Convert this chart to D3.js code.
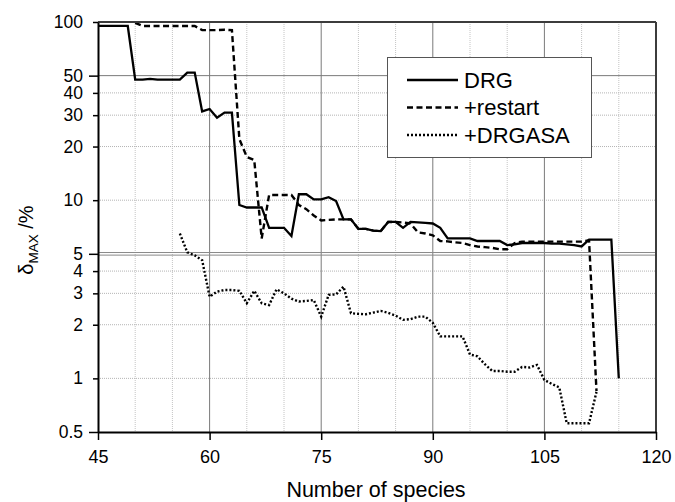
<!DOCTYPE html>
<html>
<head>
<meta charset="utf-8">
<script src="https://cdn.jsdelivr.net/npm/d3@7"></script>
<style>
  body { margin: 0; background: #fff; }
  svg { display: block; font-family: "Liberation Sans", Arial, sans-serif; }
</style>
</head>
<body>
<div id="chart"></div>
<script>
// --- data ---
const drgSpecies = [45,46,47,48,49,50,51,52,53,54,55,56,57,58,59,60,61,62,63,64,65,66,67,68,69,70,
  71,72,73,74,75,76,77,78,79,80,81,82,83,84,85,86,87,88,89,90,91,92,93,94,95,96,97,98,99,100,
  101,102,103,104,105,106,107,108,109,110,111,112,113,114,115];
const drgDelta = [95,95,95,95,95,47.5,47.5,48,47.5,47.5,47.5,47.5,52,52,31.5,32.5,29,31,31,9.4,
  9.1,9.1,9.1,7.0,7.0,7.0,6.3,10.8,10.8,10.1,10.1,10.4,9.9,7.8,7.8,6.9,6.9,6.75,6.7,7.55,7.55,
  7.0,7.55,7.5,7.45,7.4,7.0,6.1,6.1,6.1,6.1,5.9,5.9,5.9,5.9,5.6,5.65,5.75,5.75,5.75,5.75,5.7,
  5.7,5.65,5.6,5.5,6.0,6.0,6.0,6.0,1.0];

const restartSpecies = [50,51,52,53,54,55,56,57,58,59,60,61,62,63,64,65,66,67,68,69,70,71,72,73,
  74,75,76,77,78,79,80,81,82,83,84,85,86,87,88,89,90,91,92,93,94,95,96,97,98,99,100,101,102,
  103,104,105,106,107,108,109,110,111,112];
const restartDelta = [99,95,95,95,95,95,95,95,95,90,90,90,90.5,90,22,17.5,16.8,6.1,10.7,10.7,
  10.7,10.7,9.4,8.9,8.2,7.7,7.75,7.8,7.8,7.8,6.9,6.9,6.75,6.7,7.55,7.55,7.5,7.4,6.6,6.5,6.35,
  5.9,5.87,5.8,5.75,5.6,5.5,5.45,5.4,5.3,5.3,5.75,5.85,5.85,5.85,5.85,5.85,5.85,5.85,5.85,
  5.85,5.95,0.85];

const drgasaSpecies = [56,57,58,59,60,61,62,63,64,65,66,67,68,69,70,71,72,73,74,75,76,77,78,79,
  80,81,82,83,84,85,86,87,88,89,90,91,92,93,94,95,96,97,98,99,100,101,102,103,104,105,106,107,
  108,109,110,111,112];
const drgasaDelta = [6.5,5.1,4.9,4.6,2.87,3.07,3.13,3.13,3.1,2.64,3.1,2.64,2.58,3.16,3.0,2.8,
  2.7,2.72,2.75,2.22,2.94,2.96,3.27,2.32,2.3,2.29,2.34,2.39,2.33,2.25,2.13,2.15,2.22,2.22,2.05,
  1.72,1.72,1.72,1.72,1.36,1.33,1.2,1.1,1.1,1.09,1.09,1.16,1.15,1.19,0.98,0.93,0.89,0.56,0.56,
  0.56,0.56,0.84];

const seriesNames = ["DRG", "+restart", "+DRGASA"];

// ticks / grid
const xTicks = [45, 60, 75, 90, 105, 120];
const xMinorGrid = [50, 55, 65, 70, 80, 85, 95, 100, 110, 115];
const xMajorGrid = [60, 75, 90, 105];
const yTicks = [100, 50, 40, 30, 20, 10, 5, 4, 3, 2, 1, 0.5];
const yMajor = [0.5, 5, 50];
const yMinorGrid = [40, 30, 20, 10, 4, 3, 2, 1];

// --- layout ---
const W = 675, H = 502;
const margin = { top: 22, right: 19, bottom: 70, left: 98 };

const x = d3.scaleLinear().domain([45, 120]).range([margin.left, W - margin.right]);
const y = d3.scaleLog().domain([0.5, 100]).range([H - margin.bottom, margin.top]);

const svg = d3.select("#chart").append("svg").attr("width", W).attr("height", H);

const x0 = x.range()[0], x1 = x.range()[1];
const yTop = y.range()[1], yBot = y.range()[0];

// grid: dotted minor
const grid = svg.append("g");
grid.selectAll("line.vmin").data(xMinorGrid).join("line")
  .attr("x1", d => x(d)).attr("x2", d => x(d)).attr("y1", yTop).attr("y2", yBot)
  .attr("stroke", "#c4c4c4").attr("stroke-dasharray", "1,1");
grid.selectAll("line.hmin").data(yMinorGrid).join("line")
  .attr("x1", x0).attr("x2", x1).attr("y1", d => y(d)).attr("y2", d => y(d))
  .attr("stroke", "#b4b4b4").attr("stroke-dasharray", "1,1");
// grid: solid major
grid.selectAll("line.vmaj").data(xMajorGrid).join("line")
  .attr("x1", d => x(d)).attr("x2", d => x(d)).attr("y1", yTop).attr("y2", yBot)
  .attr("stroke", "#7a7a7a");
grid.append("line")
  .attr("x1", x0).attr("x2", x1).attr("y1", y(50)).attr("y2", y(50))
  .attr("stroke", "#7a7a7a");
// the 5 % line is drawn doubled
[-1.3, 1.3].forEach(off => {
  grid.append("line")
    .attr("x1", x0).attr("x2", x1).attr("y1", y(5) + off).attr("y2", y(5) + off)
    .attr("stroke", "#8a8a8a");
});

// series
const styles = [
  { w: 2.3, dash: null },
  { w: 2.4, dash: "6,3.5" },
  { w: 2.4, dash: "2,2" }
];
const series = [
  drgSpecies.map((n, i) => ({ n, v: drgDelta[i] })),
  restartSpecies.map((n, i) => ({ n, v: restartDelta[i] })),
  drgasaSpecies.map((n, i) => ({ n, v: drgasaDelta[i] }))
];
const line = d3.line().x(d => x(d.n)).y(d => y(d.v));

svg.append("g").selectAll("path").data(series).join("path")
  .attr("d", line)
  .attr("fill", "none").attr("stroke", "#000")
  .attr("stroke-width", (d, i) => styles[i].w)
  .attr("stroke-dasharray", (d, i) => styles[i].dash)
  .attr("stroke-linejoin", "miter");

// frame top / right
svg.append("line").attr("x1", x0).attr("x2", x1).attr("y1", yTop).attr("y2", yTop)
  .attr("stroke", "#3c3c3c").attr("stroke-width", 2);
svg.append("line").attr("x1", x1).attr("x2", x1).attr("y1", yTop).attr("y2", yBot)
  .attr("stroke", "#3c3c3c").attr("stroke-width", 2);

// y axis
svg.append("g")
  .attr("transform", `translate(${x0},0)`)
  .call(d3.axisLeft(y).tickValues(yTicks).tickFormat(d => String(d))
    .tickSizeInner(5).tickSizeOuter(0).tickPadding(10))
  .call(g => g.select(".domain").attr("stroke-width", 2))
  .call(g => g.selectAll(".tick line").attr("stroke-width", 1.5)
    .attr("x2", d => yMajor.includes(d) ? -9 : -5))
  .call(g => g.selectAll(".tick text").attr("font-size", 17.5)
    .attr("font-family", "Liberation Sans, Arial, sans-serif").attr("fill", "#000"));

// x axis
svg.append("g")
  .attr("transform", `translate(0,${yBot})`)
  .call(d3.axisBottom(x).tickValues(xTicks).tickFormat(d3.format("d"))
    .tickSizeInner(8).tickSizeOuter(0).tickPadding(10))
  .call(g => g.select(".domain").attr("stroke-width", 2))
  .call(g => g.selectAll(".tick line").attr("stroke-width", 1.5))
  .call(g => g.selectAll(".tick text").attr("font-size", 18)
    .attr("font-family", "Liberation Sans, Arial, sans-serif").attr("fill", "#000"));

// axis titles
svg.append("text")
  .attr("x", (x0 + x1) / 2 - 1).attr("y", 497)
  .attr("text-anchor", "middle").attr("font-size", 21.5)
  .text("Number of species");

const yl = svg.append("text")
  .attr("transform", "translate(33,240) rotate(-90)")
  .attr("text-anchor", "middle").attr("font-size", 20);
yl.append("tspan").text("δ");
yl.append("tspan").attr("font-size", 13.5).attr("dy", 5).text("MAX");
yl.append("tspan").attr("dy", -5).text(" /%");

// legend
const lg = svg.append("g");
lg.append("rect").attr("x", 387.5).attr("y", 57.5).attr("width", 204).attr("height", 100)
  .attr("fill", "#fff").attr("stroke", "#555").attr("stroke-width", 1);
const rowY = [80, 107.5, 135];
seriesNames.forEach((name, i) => {
  lg.append("line").attr("x1", 407).attr("x2", 458).attr("y1", rowY[i]).attr("y2", rowY[i])
    .attr("stroke", "#000").attr("stroke-width", styles[i].w)
    .attr("stroke-dasharray", styles[i].dash);
  lg.append("text").attr("x", 464).attr("y", rowY[i] + 7.5)
    .attr("font-size", 22).text(name);
});
</script>
</body>
</html>
